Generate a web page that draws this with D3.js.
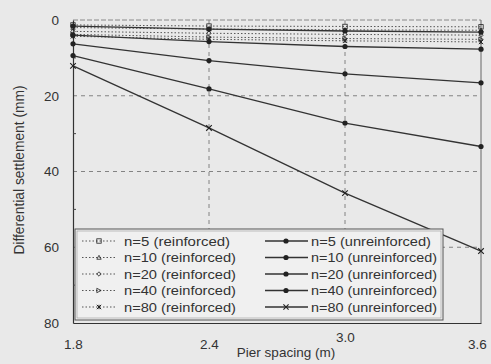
<!DOCTYPE html>
<html><head><meta charset="utf-8">
<script src="https://cdn.jsdelivr.net/npm/d3@7"></script>
<style>html,body{margin:0;padding:0;background:#e9e9e9;}svg{display:block;}</style>
</head><body>
<script>
const spacing = [1.8, 2.4, 3.0, 3.6];
const xTicks = [1.8, 2.4, 3.0, 3.6];
const yTicks = [0, 20, 40, 60, 80];
const yMinor = [10, 30, 50, 70];
const seriesNames = ["n=5", "n=10", "n=20", "n=40", "n=80"];
const reinforced = [
  [1.3, 1.6, 1.7, 1.8],
  [2.0, 2.4, 2.6, 2.7],
  [3.0, 3.5, 3.8, 4.0],
  [3.8, 4.5, 4.9, 5.1],
  [4.3, 5.1, 5.5, 5.8]
];
const unreinforced = [
  [1.6, 2.4, 2.9, 3.2],
  [4.0, 5.7, 7.0, 7.7],
  [6.3, 10.7, 14.2, 16.6],
  [9.4, 18.2, 27.2, 33.4],
  [12.1, 28.5, 45.7, 61.0]
];
const reinfMarkers = ["square", "triangle", "diamond", "tri-right", "star"];
const unreinfMarkers = ["dot", "dot", "dot", "dot", "cross"];

const W = 491, H = 364;
const m = {left: 73, right: 481, top: 20, bottom: 323};
const svg = d3.select("body").append("svg").attr("width", W).attr("height", H)
  .style("font-family", "'Liberation Sans', Arial, sans-serif");
svg.append("rect").attr("width", W).attr("height", H).attr("fill", "#e9e9e9");

const x = d3.scaleLinear().domain([1.8, 3.6]).range([m.left, m.right]);
const y = d3.scaleLinear().domain([0, 80]).range([m.top, m.bottom]);

// grid
const g = svg.append("g");
g.selectAll(".hg").data([20, 40, 60]).enter().append("line")
  .attr("x1", m.left).attr("x2", m.right).attr("y1", d => y(d)).attr("y2", d => y(d))
  .attr("stroke", "#777").attr("stroke-width", 0.9).attr("stroke-dasharray", "4,4");
g.selectAll(".vg").data([2.4, 3.0]).enter().append("line")
  .attr("y1", m.top).attr("y2", m.bottom).attr("x1", d => x(d)).attr("x2", d => x(d))
  .attr("stroke", "#777").attr("stroke-width", 0.9).attr("stroke-dasharray", "4,4");
g.append("line").attr("x1", m.left).attr("x2", m.right).attr("y1", m.top).attr("y2", m.top)
  .attr("stroke", "#888").attr("stroke-width", 1).attr("stroke-dasharray", "5,2");
g.append("line").attr("x1", m.right).attr("x2", m.right).attr("y1", m.top).attr("y2", m.bottom)
  .attr("stroke", "#666").attr("stroke-width", 1);

// axes
const yAxis = d3.axisLeft(y).tickValues(yTicks).tickSize(0).tickPadding(14);
const ya = svg.append("g").attr("transform", `translate(${m.left},0)`).call(yAxis);
ya.select(".domain").attr("stroke", "#333").attr("stroke-width", 1.2);
ya.selectAll("text").attr("font-size", 13.5).attr("fill", "#333")
  .attr("font-family", "'Liberation Sans', Arial, sans-serif");
svg.append("g").selectAll("line").data(yMinor).enter().append("line")
  .attr("x1", m.left).attr("x2", m.left + 3).attr("y1", d => y(d)).attr("y2", d => y(d))
  .attr("stroke", "#444");

const xAxis = d3.axisBottom(x).tickValues(xTicks).tickFormat(d3.format(".1f")).tickSize(0).tickPadding(16);
const xa = svg.append("g").attr("transform", `translate(0,${m.bottom})`).call(xAxis);
xa.select(".domain").attr("stroke", "#333").attr("stroke-width", 1.2);
xa.selectAll("text").attr("font-size", 13.5).attr("fill", "#333")
  .attr("font-family", "'Liberation Sans', Arial, sans-serif");
xa.selectAll(".tick").filter(d => d === 3.0).select("text").attr("dy", "0.2em");
xa.selectAll(".tick").filter(d => d === 3.6).select("text").attr("dx", "-0.3em");

svg.append("text").attr("x", 286).attr("y", 357).attr("text-anchor", "middle")
  .attr("font-size", 13.5).attr("fill", "#333").text("Pier spacing (m)");
svg.append("text").attr("transform", "translate(24,170) rotate(-90)").attr("text-anchor", "middle")
  .attr("font-size", 13.8).attr("fill", "#333").text("Differential settlement (mm)");

function marker(sel, type, cx, cy, s) {
  s = s || 3;
  const c = "#222";
  if (type === "dot") sel.append("circle").attr("cx", cx).attr("cy", cy).attr("r", 2.6).attr("fill", c);
  else if (type === "square") sel.append("rect").attr("x", cx - s).attr("y", cy - s).attr("width", 2 * s).attr("height", 2 * s).attr("fill", "none").attr("stroke", c).attr("stroke-width", 0.8);
  else if (type === "triangle") sel.append("path").attr("d", `M${cx},${cy - s}L${cx + s},${cy + s * 0.8}L${cx - s},${cy + s * 0.8}Z`).attr("fill", "none").attr("stroke", c).attr("stroke-width", 0.8);
  else if (type === "diamond") sel.append("path").attr("d", `M${cx},${cy - s}L${cx + s},${cy}L${cx},${cy + s}L${cx - s},${cy}Z`).attr("fill", "none").attr("stroke", c).attr("stroke-width", 0.8);
  else if (type === "tri-right") sel.append("path").attr("d", `M${cx + s},${cy}L${cx - s},${cy - s}L${cx - s},${cy + s}Z`).attr("fill", "none").attr("stroke", c).attr("stroke-width", 0.8);
  else if (type === "star") sel.append("path").attr("d", `M${cx - s},${cy - s}L${cx + s},${cy + s}M${cx - s},${cy + s}L${cx + s},${cy - s}M${cx},${cy - s}L${cx},${cy + s}`).attr("stroke", c).attr("stroke-width", 1);
  else if (type === "cross") sel.append("path").attr("d", `M${cx - s},${cy - s}L${cx + s},${cy + s}M${cx - s},${cy + s}L${cx + s},${cy - s}`).attr("stroke", c).attr("stroke-width", 1.1);
}

const line = d3.line().x((d, i) => x(spacing[i])).y(d => y(d));
const lines = svg.append("g");
reinforced.forEach((s, k) => {
  lines.append("path").attr("d", line(s)).attr("fill", "none").attr("stroke", "#555")
    .attr("stroke-width", 1).attr("stroke-dasharray", "1.5,2");
  s.forEach((v, i) => marker(lines, reinfMarkers[k], x(spacing[i]), y(v), 2.2));
});
unreinforced.forEach((s, k) => {
  lines.append("path").attr("d", line(s)).attr("fill", "none").attr("stroke", "#333").attr("stroke-width", 1.3);
  s.forEach((v, i) => marker(lines, unreinfMarkers[k], x(spacing[i]), y(v), 2.8));
});

// legend
const lg = svg.append("g");
lg.append("rect").attr("x", 75).attr("y", 229).attr("width", 368).attr("height", 91)
  .attr("fill", "#f0f0f0").attr("stroke", "#555").attr("stroke-width", 1);
lg.append("rect").attr("x", 77).attr("y", 231).attr("width", 364).attr("height", 87)
  .attr("fill", "none").attr("stroke", "#999").attr("stroke-width", 0.6);
const rowY = i => 241 + i * 16.5;
seriesNames.forEach((n, i) => {
  const yy = rowY(i);
  lg.append("line").attr("x1", 82).attr("x2", 116).attr("y1", yy).attr("y2", yy)
    .attr("stroke", "#555").attr("stroke-width", 1).attr("stroke-dasharray", "1.5,2");
  marker(lg, reinfMarkers[i], 99, yy, 2.2);
  lg.append("text").attr("x", 124).attr("y", yy + 4.5).attr("font-size", 12.5).attr("fill", "#333")
    .attr("textLength", n.length === 3 ? 106 : 112).attr("lengthAdjust", "spacingAndGlyphs")
    .text(n + " (reinforced)");
  lg.append("line").attr("x1", 265).attr("x2", 308).attr("y1", yy).attr("y2", yy)
    .attr("stroke", "#333").attr("stroke-width", 1.3);
  marker(lg, unreinfMarkers[i], 286, yy, 2.6);
  lg.append("text").attr("x", 311).attr("y", yy + 4.5).attr("font-size", 12.5).attr("fill", "#333")
    .attr("textLength", n.length === 3 ? 120 : 126).attr("lengthAdjust", "spacingAndGlyphs")
    .text(n + " (unreinforced)");
});
</script>
</body></html>
